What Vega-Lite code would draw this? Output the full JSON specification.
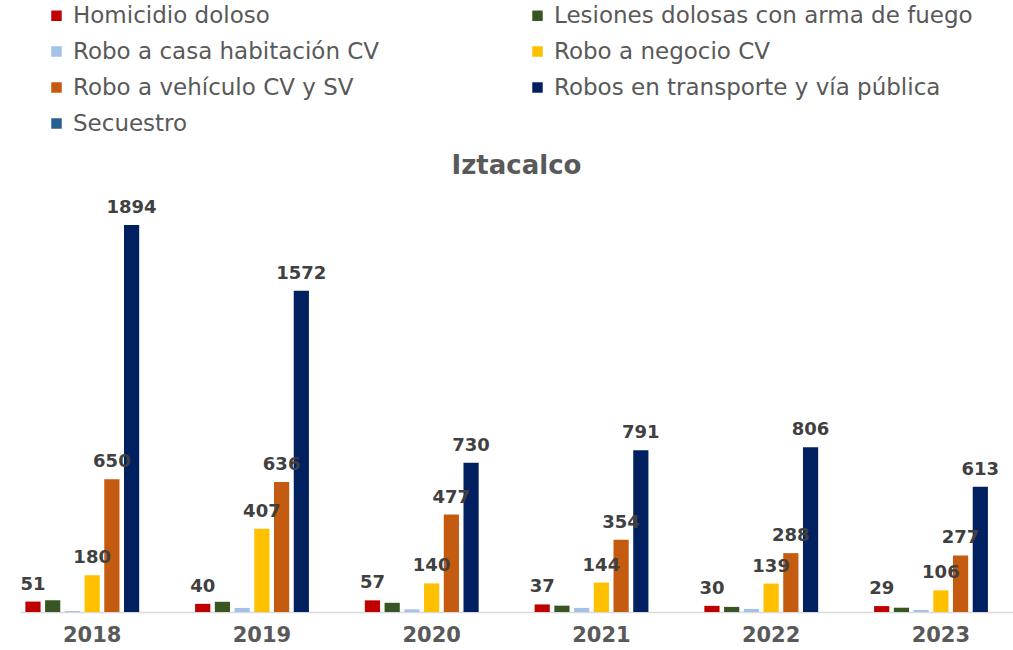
{
  "$schema": "https://vega.github.io/schema/vega-lite/v6.json",
  "width": 993,
  "height": 422,
  "autosize": {"type": "none"},
  "padding": {"left": 20, "top": 190, "right": 0, "bottom": 38},
  "background": "white",
  "title": {"text": "Iztacalco", "font": "DejaVu Sans", "fontSize": 26, "fontWeight": "bold", "color": "#595959", "anchor": "middle", "offset": 12, "dy": 187},
  "config": {"view": {"stroke": null}, "font": "DejaVu Sans"},
  "data": {"values": [
    {"year": "2018", "cat": "Homicidio doloso", "value": 51},
    {"year": "2018", "cat": "Lesiones dolosas con arma de fuego", "value": 58},
    {"year": "2018", "cat": "Robo a casa habitación CV", "value": 5},
    {"year": "2018", "cat": "Robo a negocio CV", "value": 180},
    {"year": "2018", "cat": "Robo a vehículo CV y SV", "value": 650},
    {"year": "2018", "cat": "Robos en transporte y vía pública", "value": 1894},
    {"year": "2018", "cat": "Secuestro", "value": 0},
    {"year": "2019", "cat": "Homicidio doloso", "value": 40},
    {"year": "2019", "cat": "Lesiones dolosas con arma de fuego", "value": 50},
    {"year": "2019", "cat": "Robo a casa habitación CV", "value": 20},
    {"year": "2019", "cat": "Robo a negocio CV", "value": 407},
    {"year": "2019", "cat": "Robo a vehículo CV y SV", "value": 636},
    {"year": "2019", "cat": "Robos en transporte y vía pública", "value": 1572},
    {"year": "2019", "cat": "Secuestro", "value": 0},
    {"year": "2020", "cat": "Homicidio doloso", "value": 57},
    {"year": "2020", "cat": "Lesiones dolosas con arma de fuego", "value": 45},
    {"year": "2020", "cat": "Robo a casa habitación CV", "value": 13},
    {"year": "2020", "cat": "Robo a negocio CV", "value": 140},
    {"year": "2020", "cat": "Robo a vehículo CV y SV", "value": 477},
    {"year": "2020", "cat": "Robos en transporte y vía pública", "value": 730},
    {"year": "2020", "cat": "Secuestro", "value": 0},
    {"year": "2021", "cat": "Homicidio doloso", "value": 37},
    {"year": "2021", "cat": "Lesiones dolosas con arma de fuego", "value": 31},
    {"year": "2021", "cat": "Robo a casa habitación CV", "value": 20},
    {"year": "2021", "cat": "Robo a negocio CV", "value": 144},
    {"year": "2021", "cat": "Robo a vehículo CV y SV", "value": 354},
    {"year": "2021", "cat": "Robos en transporte y vía pública", "value": 791},
    {"year": "2021", "cat": "Secuestro", "value": 0},
    {"year": "2022", "cat": "Homicidio doloso", "value": 30},
    {"year": "2022", "cat": "Lesiones dolosas con arma de fuego", "value": 25},
    {"year": "2022", "cat": "Robo a casa habitación CV", "value": 15},
    {"year": "2022", "cat": "Robo a negocio CV", "value": 139},
    {"year": "2022", "cat": "Robo a vehículo CV y SV", "value": 288},
    {"year": "2022", "cat": "Robos en transporte y vía pública", "value": 806},
    {"year": "2022", "cat": "Secuestro", "value": 0},
    {"year": "2023", "cat": "Homicidio doloso", "value": 29},
    {"year": "2023", "cat": "Lesiones dolosas con arma de fuego", "value": 21},
    {"year": "2023", "cat": "Robo a casa habitación CV", "value": 10},
    {"year": "2023", "cat": "Robo a negocio CV", "value": 106},
    {"year": "2023", "cat": "Robo a vehículo CV y SV", "value": 277},
    {"year": "2023", "cat": "Robos en transporte y vía pública", "value": 613},
    {"year": "2023", "cat": "Secuestro", "value": 0}
  ]},
  "encoding": {
    "x": {"field": "year", "type": "nominal", "title": null,
      "scale": {"paddingInner": 0.19, "paddingOuter": 0.02},
      "axis": {"labelAngle": 0, "labelFont": "DejaVu Sans", "labelFontSize": 21, "labelFontWeight": "bold", "labelColor": "#595959", "labelPadding": 12, "ticks": false, "domainColor": "#D9D9D9", "domainWidth": 1.5}},
    "xOffset": {"field": "cat", "type": "nominal",
      "scale": {"domain": ["Homicidio doloso", "Lesiones dolosas con arma de fuego", "Robo a casa habitación CV", "Robo a negocio CV", "Robo a vehículo CV y SV", "Robos en transporte y vía pública", "Secuestro"], "paddingInner": 0.23, "paddingOuter": 0.1}},
    "y": {"field": "value", "type": "quantitative", "scale": {"domain": [0, 2065], "nice": false}, "axis": null}
  },
  "layer": [
    {
      "mark": {"type": "bar"},
      "encoding": {
        "color": {"field": "cat", "type": "nominal", "title": null,
          "scale": {"domain": ["Homicidio doloso", "Lesiones dolosas con arma de fuego", "Robo a casa habitación CV", "Robo a negocio CV", "Robo a vehículo CV y SV", "Robos en transporte y vía pública", "Secuestro"],
            "range": ["#C00000", "#375623", "#A4C2E8", "#FFC000", "#C55A11", "#002060", "#255E91"]},
          "legend": {"orient": "none", "legendX": 25, "legendY": -186, "direction": "horizontal", "columns": 2, "columnPadding": 146, "rowPadding": 12, "symbolType": "square", "symbolSize": 110, "symbolStrokeWidth": 0, "labelFont": "DejaVu Sans", "labelFontSize": 23, "labelColor": "#595959", "labelOffset": 5, "labelLimit": 600}}
      }
    },
    {
      "transform": [{"filter": "indexof(['Homicidio doloso','Robo a negocio CV','Robo a vehículo CV y SV','Robos en transporte y vía pública'], datum.cat) >= 0"}],
      "mark": {"type": "text", "baseline": "bottom", "dy": -8, "font": "DejaVu Sans", "fontSize": 18, "fontWeight": "bold", "color": "#404040"},
      "encoding": {"text": {"field": "value", "type": "quantitative"}}
    }
  ]
}
